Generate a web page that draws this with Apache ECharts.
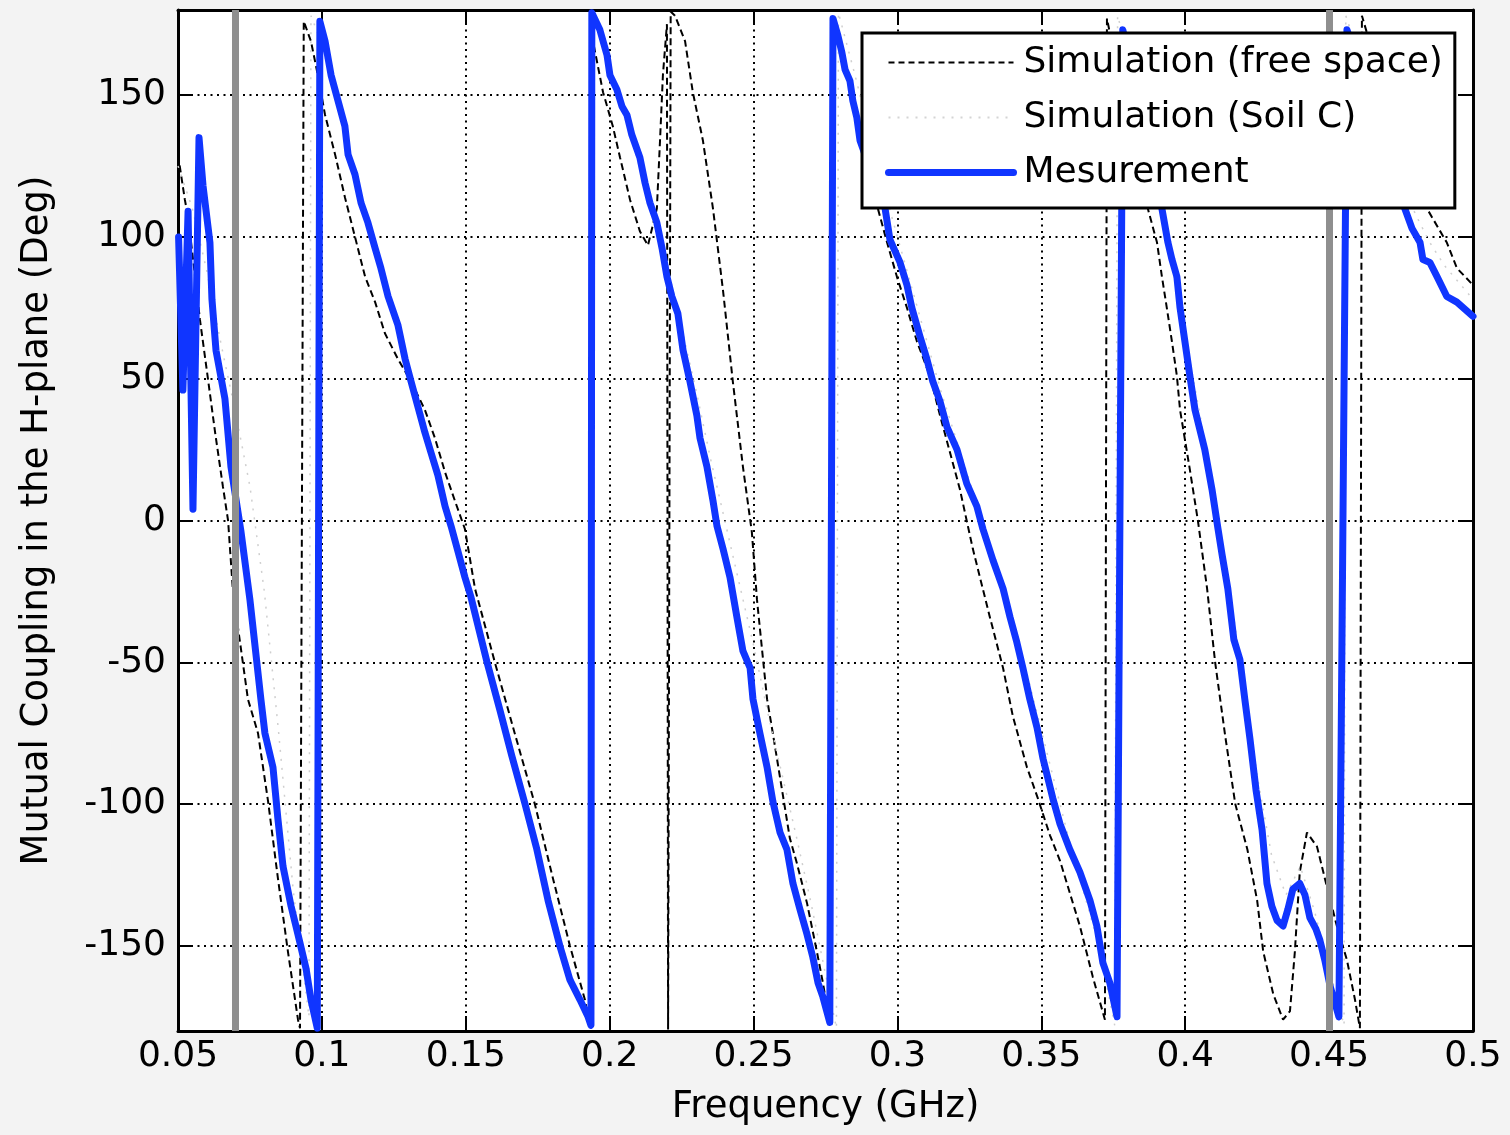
<!DOCTYPE html>
<html>
<head>
<meta charset="utf-8">
<script src="https://cdn.jsdelivr.net/npm/echarts@6/dist/echarts.min.js"></script>
<style>
html,body{margin:0;padding:0;background:#f3f3f3;}
#chart{width:1510px;height:1135px;}
</style>
</head>
<body>
<div id="chart"></div>
<script>
// ---- data (frequency in GHz, phase in degrees) ----
const seriesNames = ['Simulation (free space)', 'Simulation (Soil C)', 'Mesurement'];
const yTicks = [-150, -100, -50, 0, 50, 100, 150];
const markerFreqs = [0.0705, 0.4503];

const freeSpace = [
[0.0500,129],[0.0524,113],[0.0535,107],[0.0556,89],[0.0576,71],[0.0604,50],[0.0629,31],[0.0656,12],[0.0674,0],[0.0691,-25],[0.0743,-63],[0.0778,-75],[0.0813,-99],[0.0847,-126],[0.0882,-152],[0.0917,-176],[0.0924,-179],
[0.0937,176],[0.0962,169],[0.0986,157],[0.1011,143],[0.1046,129],[0.1080,114],[0.1115,100],[0.1150,86],[0.1185,77],[0.1219,66],[0.1264,57],[0.1310,49],[0.1358,39],[0.1393,29],[0.1428,17],[0.1462,7],[0.1497,-3],[0.1532,-24],[0.1601,-50],[0.1670,-75],[0.1740,-100],[0.1800,-125],[0.1862,-150],[0.1914,-169],[0.1932,-178],
[0.1935,179],[0.1942,169],[0.1977,151],[0.2011,139],[0.2036,128],[0.2071,113],[0.2105,102],[0.2133,97],[0.2164,110],[0.2175,134],[0.2185,157],[0.2199,175],[0.2203,-179.5],[0.2212,179.5],[0.2227,178],[0.2262,169],
[0.2289,151],[0.2324,134],[0.2359,110],[0.2394,81],[0.2428,49],[0.2463,19],[0.2494,-4],[0.2512,-28],[0.2547,-63],[0.2567,-75],[0.2599,-95],[0.2626,-112],[0.2651,-121],[0.2686,-135],[0.2720,-152],[0.2741,-163],[0.2765,-177],
[0.2772,178],[0.2800,166],[0.2835,152],[0.2877,138],[0.2905,124],[0.2932,110],[0.2964,98],[0.2998,86],[0.3033,75],[0.3068,63],[0.3113,51],[0.3148,37],[0.3217,11],[0.3262,-10],[0.3321,-34],[0.3367,-52],[0.3401,-69],[0.3450,-87],[0.3488,-98],[0.3530,-111],[0.3565,-120],[0.3634,-143],[0.3679,-161],[0.3721,-176],
[0.3728,177],[0.3756,163],[0.3791,145],[0.3825,131],[0.3870,110],[0.3902,98],[0.3919,86],[0.3936,75],[0.3954,63],[0.3971,51],[0.3982,39],[0.4016,18],[0.4044,0],[0.4076,-24],[0.4104,-50],[0.4139,-76],[0.4174,-100],[0.4216,-116],[0.4250,-134],[0.4271,-152],[0.4306,-167],[0.4340,-176],[0.4364,-173],[0.4381,-152],[0.4398,-124],[0.4423,-110],[0.4458,-115],[0.4492,-129],[0.4527,-143],[0.4562,-155],[0.4590,-169],[0.4607,-179],
[0.4614,178],[0.4677,156],[0.4746,131],[0.4798,117],[0.4840,110],[0.4909,98],[0.4944,89],[0.5000,83]
];

const soilC = [
[0.050,125],[0.055,110],[0.060,88],[0.065,62],[0.070,38],[0.075,12],[0.080,-25],[0.085,-75],[0.090,-130],[0.0955,-175],
[0.0962,178],[0.100,168],[0.105,148],[0.110,128],[0.115,108],[0.120,90],[0.125,72],[0.130,55],[0.135,38],[0.140,18],[0.145,0],[0.150,-18],[0.155,-38],[0.160,-58],[0.165,-76],[0.170,-96],[0.175,-116],[0.180,-136],[0.185,-155],[0.190,-170],[0.1935,-179],
[0.1942,179],[0.200,160],[0.205,143],[0.210,126],[0.215,108],[0.220,90],[0.225,68],[0.230,46],[0.235,22],[0.240,0],[0.245,-22],[0.250,-44],[0.255,-68],[0.260,-90],[0.265,-112],[0.270,-135],[0.275,-160],[0.2788,-179],
[0.2795,179],[0.285,158],[0.290,138],[0.295,118],[0.300,100],[0.305,82],[0.310,64],[0.315,46],[0.320,30],[0.325,14],[0.330,-2],[0.335,-18],[0.340,-36],[0.345,-54],[0.350,-74],[0.355,-94],[0.360,-114],[0.365,-132],[0.370,-150],[0.3755,-178],
[0.3765,178],[0.380,165],[0.385,145],[0.390,118],[0.395,92],[0.400,65],[0.405,38],[0.410,10],[0.415,-22],[0.420,-55],[0.425,-90],[0.430,-118],[0.435,-132],[0.440,-122],[0.445,-138],[0.450,-158],[0.4552,-178],
[0.4558,178],[0.460,165],[0.465,150],[0.470,135],[0.475,120],[0.480,108],[0.485,98],[0.490,90],[0.495,84],[0.500,78]
];

const measurement = [
[0.0502,100],[0.0517,46],[0.0535,109],[0.0552,4],[0.0573,135],[0.0587,118],[0.0611,98],[0.0618,78],[0.0632,60],[0.0663,43],[0.0684,19],[0.0719,-4],[0.0750,-28],[0.0788,-63],[0.0802,-75],[0.0830,-87],[0.0847,-105],[0.0865,-122],[0.0893,-136],[0.0917,-146],[0.0945,-158],[0.0962,-169],[0.0984,-179],
[0.0993,176],[0.1011,169],[0.1032,157],[0.1056,148],[0.1080,139],[0.1091,129],[0.1115,122],[0.1136,112],[0.1160,105],[0.1185,96],[0.1205,89],[0.1230,79],[0.1264,69],[0.1289,57],[0.1310,49],[0.1334,40],[0.1358,31],[0.1379,24],[0.1403,16],[0.1428,5],[0.1449,-2],[0.1473,-11],[0.1497,-20],[0.1518,-27],[0.1574,-50],[0.1619,-67],[0.1660,-83],[0.1706,-100],[0.1747,-116],[0.1786,-134],[0.1827,-150],[0.1862,-162],[0.1897,-169],[0.1925,-175],[0.1935,-178],
[0.1938,179],[0.1966,173],[0.1991,164],[0.2001,157],[0.2025,152],[0.2043,146],[0.2060,143],[0.2077,136],[0.2105,128],[0.2123,119],[0.2140,112],[0.2164,105],[0.2182,96],[0.2199,86],[0.2216,79],[0.2237,73],[0.2255,60],[0.2279,49],[0.2303,37],[0.2314,29],[0.2338,19],[0.2359,7],[0.2373,-2],[0.2394,-10],[0.2418,-20],[0.2442,-34],[0.2463,-46],[0.2488,-52],[0.2498,-63],[0.2522,-75],[0.2547,-87],[0.2567,-99],[0.2592,-110],[0.2616,-116],[0.2637,-128],[0.2661,-137],[0.2686,-146],[0.2706,-154],[0.2724,-163],[0.2741,-168],[0.2765,-177],
[0.2776,177],[0.2793,171],[0.2807,165],[0.2818,159],[0.2835,155],[0.2845,148],[0.2859,142],[0.2870,134],[0.2905,124],[0.2932,117],[0.2957,110],[0.2974,99],[0.3009,91],[0.3033,83],[0.3050,75],[0.3078,65],[0.3102,57],[0.3123,49],[0.3148,42],[0.3172,33],[0.3207,25],[0.3241,13],[0.3276,5],[0.3297,-3],[0.3332,-14],[0.3367,-24],[0.3391,-34],[0.3415,-43],[0.3436,-52],[0.3460,-63],[0.3485,-73],[0.3506,-84],[0.3540,-98],[0.3565,-107],[0.3599,-116],[0.3634,-124],[0.3669,-134],[0.3693,-143],[0.3714,-156],[0.3738,-163],[0.3763,-175],
[0.3783,173],[0.3825,156],[0.3870,131],[0.3919,110],[0.3940,98],[0.3954,92],[0.3971,86],[0.3982,75],[0.3999,63],[0.4016,51],[0.4034,39],[0.4068,25],[0.4093,11],[0.4114,-3],[0.4128,-12],[0.4148,-24],[0.4169,-42],[0.4190,-49],[0.4207,-63],[0.4225,-77],[0.4246,-95],[0.4267,-109],[0.4284,-128],[0.4301,-136],[0.4319,-141],[0.4340,-143],[0.4357,-137],[0.4374,-130],[0.4398,-128],[0.4416,-132],[0.4433,-140],[0.4454,-144],[0.4468,-148],[0.4485,-155],[0.4503,-164],[0.4520,-170],[0.4534,-175],
[0.4562,173],[0.4607,159],[0.4659,142],[0.4711,124],[0.4763,110],[0.4788,103],[0.4816,98],[0.4826,92],[0.4850,91],[0.4875,86],[0.4909,79],[0.4944,77],[0.5000,72]
];

// ---- chart ----
const FONT = "'DejaVu Sans', 'Liberation Sans', sans-serif";
const chart = echarts.init(document.getElementById('chart'), null, {renderer: 'canvas'});

const boxLine = {show: true, onZero: false, lineStyle: {color: '#000', width: 3}};
const tickIn = {show: true, inside: true, length: 15, lineStyle: {color: '#000', width: 2}};

const lineStyles = [
  {color: '#000', width: 2, type: [7, 4]},
  {color: '#cfcfcf', width: 1.5, type: [2, 7]},
  {color: '#1035ff', width: 7, cap: 'round', join: 'round'}
];
const legendLineStyles = [
  {color: '#000', width: 2, type: [6, 4]},
  {color: '#d4d4d4', width: 2, type: [2, 7]},
  {color: '#1035ff', width: 7, type: 'solid'}
];

const option = {
  animation: false,
  backgroundColor: '#f3f3f3',
  grid: {left: 178, right: 37, top: 10, bottom: 104, show: true, backgroundColor: '#ffffff', borderWidth: 0},
  legend: {
    orient: 'vertical',
    left: 862, top: 33, z: 10,
    data: seriesNames.map((n, i) => ({name: n, lineStyle: legendLineStyles[i], itemStyle: {opacity: 0}})),
    backgroundColor: '#ffffff',
    borderColor: '#000', borderWidth: 3,
    padding: [2, 12, 8, 23],
    itemWidth: 125, itemHeight: 14, itemGap: 0,
    itemStyle: {opacity: 0},
    textStyle: {fontFamily: FONT, fontSize: 36, color: '#000', lineHeight: 55, padding: [0, 0, 0, 5]}
  },
  xAxis: [
    {type: 'value', position: 'bottom', min: 0.05, max: 0.5, interval: 0.05,
     name: 'Frequency (GHz)', nameLocation: 'middle', nameGap: 58,
     nameTextStyle: {fontFamily: FONT, fontSize: 37, color: '#000'},
     axisLine: boxLine, axisTick: tickIn,
     axisLabel: {fontFamily: FONT, fontSize: 36, color: '#000', margin: 8},
     splitLine: {show: true, lineStyle: {color: '#000', width: 2, type: [2, 4.5]}}},
    {type: 'value', position: 'top', min: 0.05, max: 0.5, interval: 0.05,
     axisLine: boxLine, axisTick: tickIn, axisLabel: {show: false}, splitLine: {show: false}}
  ],
  yAxis: [
    {type: 'value', position: 'left', min: -180, max: 180,
     name: 'Mutual Coupling in the H-plane (Deg)', nameLocation: 'middle', nameGap: 122, nameRotate: 90,
     nameTextStyle: {fontFamily: FONT, fontSize: 37, color: '#000'},
     axisLine: boxLine,
     axisTick: Object.assign({customValues: yTicks}, tickIn),
     axisLabel: {customValues: yTicks, fontFamily: FONT, fontSize: 36, color: '#000', margin: 12},
     splitLine: {show: true, lineStyle: {color: '#000', width: 2, type: [2, 4.5]}}},
    {type: 'value', position: 'right', min: -180, max: 180,
     axisLine: boxLine,
     axisTick: Object.assign({customValues: yTicks}, tickIn),
     axisLabel: {show: false, customValues: yTicks}, splitLine: {show: false}}
  ],
  series: [
    {name: seriesNames[0], type: 'line', data: freeSpace, showSymbol: false, symbol: 'none',
     xAxisIndex: 0, yAxisIndex: 0, z: 2, lineStyle: lineStyles[0]},
    {name: seriesNames[1], type: 'line', data: soilC, showSymbol: false, symbol: 'none',
     xAxisIndex: 0, yAxisIndex: 0, z: 2, lineStyle: lineStyles[1]},
    {name: seriesNames[2], type: 'line', data: measurement, showSymbol: false, symbol: 'none',
     xAxisIndex: 0, yAxisIndex: 0, z: 3, lineStyle: lineStyles[2],
     markLine: {
       silent: true, symbol: ['none', 'none'], label: {show: false}, z: 5,
       lineStyle: {color: '#8f8f8f', width: 7, type: 'solid'},
       data: markerFreqs.map(f => ({xAxis: f}))
     }}
  ]
};
chart.setOption(option);
</script>
</body>
</html>
